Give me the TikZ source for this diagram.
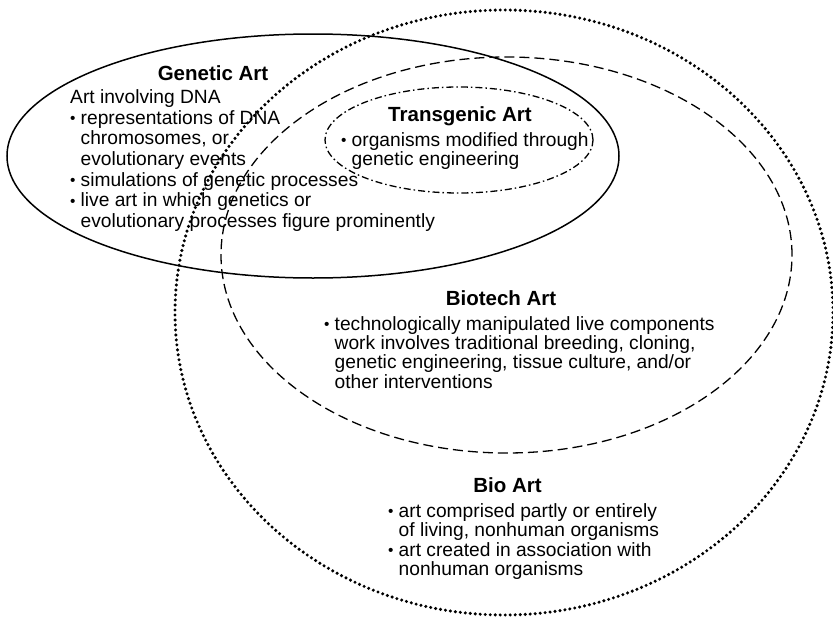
\documentclass[tikz,border=0pt]{standalone}
\usepackage{fontspec}
\setmainfont{Liberation Sans}
\usetikzlibrary{shapes.geometric}

\newcommand{\ttlfont}{\fontsize{20.5}{24}\selectfont\bfseries}
\newcommand{\bodyfont}[1]{\fontsize{19.2}{#1}\selectfont}
\newcommand{\itm}{\makebox[10.5pt][l]{\raisebox{0.05ex}{\scalebox{0.8}{\textbullet}}}}
\newcommand{\ind}{\hspace*{10.5pt}}

\tikzstyle{set}   = [ellipse, inner sep=0pt, draw=black]
\tikzstyle{ttl}   = [inner sep=0pt, font=\ttlfont, anchor=base]
\tikzstyle{txt}   = [inner sep=0pt, align=left, anchor=north west]
\tikzstyle{genline}   = [line width=1.5pt]
\tikzstyle{bioline}   = [line width=3.4pt, line cap=round, dash pattern=on 0pt off 5pt]
\tikzstyle{techline}  = [line width=1.3pt, dash pattern=on 10pt off 5pt]
\tikzstyle{transline} = [line width=1.3pt, dash pattern=on 7pt off 3pt on 1.5pt off 3pt]

\begin{document}
\begin{tikzpicture}[x=1pt, y=-1pt]
\useasboundingbox (0,0) rectangle (833,621);

%% Sets
\node (bio_set)   [set, bioline,   minimum width=658pt, minimum height=605pt] at (504,312.5) {};
\node (tech_set)  [set, techline,  minimum width=571pt, minimum height=396pt] at (506.5,255) {};
\node (gen_set)   [set, genline,   minimum width=612pt, minimum height=244pt] at (313,156) {};
\node (trans_set) [set, transline, minimum width=268pt, minimum height=106pt] at (459,140) {};

%% Genetic Art
\node (gen_ttl) [ttl] at (213,80) {Genetic Art};
\node (gen_txt) [txt, font=\bodyfont{20.7}] at (70,89.3) {Art involving DNA\\
\itm representations of DNA\\
\ind chromosomes, or\\
\ind evolutionary events\\
\itm simulations of genetic processes\\
\itm live art in which genetics or\\
\ind evolutionary processes figure prominently};

%% Transgenic Art
\node (trans_ttl) [ttl] at (460,121) {Transgenic Art};
\node (trans_txt) [txt, font=\bodyfont{19.5}] at (341,132.3) {\itm organisms modified through\\
\ind genetic engineering};

%% Biotech Art
\node (tech_ttl) [ttl] at (501,305) {Biotech Art};
\node (tech_txt) [txt, font=\bodyfont{19.4}] at (324,316) {\itm technologically manipulated live components\\
\ind work involves traditional breeding, cloning,\\
\ind genetic engineering, tissue culture, and/or\\
\ind other interventions};

%% Bio Art
\node (bio_ttl) [ttl] at (507.5,492) {Bio Art};
\node (bio_txt) [txt, font=\bodyfont{19.6}] at (388,503) {\itm art comprised partly or entirely\\
\ind of living, nonhuman organisms\\
\itm art created in association with\\
\ind nonhuman organisms};
\end{tikzpicture}
\end{document}
